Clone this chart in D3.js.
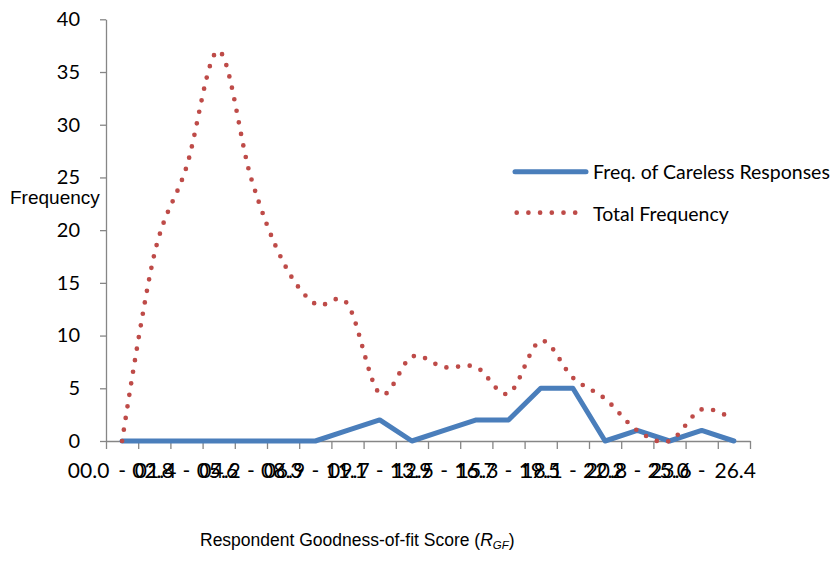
<!DOCTYPE html>
<html>
<head>
<meta charset="utf-8">
<script src="https://cdn.jsdelivr.net/npm/d3@7/dist/d3.min.js"></script>
<style>
  body { margin: 0; background: #fff; }
  svg { display: block; }
  .tick-label { font-family: Lato, "Open Sans", sans-serif; font-size: 20px; fill: #000; }
  .legend-label { font-family: Lato, "Open Sans", sans-serif; font-size: 19.5px; fill: #000; }
  .axis-title { font-family: "Liberation Sans", Arial, sans-serif; fill: #000; }
</style>
</head>
<body>
<div id="chart"></div>
<script>
// score bins (R_GF)
var categories = [
  '00.0 - 01.4', '01.4 - 02.8', '02.8 - 04.2', '04.2 - 05.6', '05.6 - 06.9',
  '06.9 - 08.3', '08.3 - 09.7', '09.7 - 11.1', '11.1 - 12.5', '12.5 - 13.9',
  '13.9 - 15.3', '15.3 - 16.7', '16.7 - 18.1', '18.1 - 19.5', '19.5 - 20.8',
  '20.8 - 22.2', '22.2 - 23.6', '23.6 - 25.0', '25.0 - 26.4', '26.4 - 27.8'
];

var carelessFreq = [0, 0, 0, 0, 0, 0, 0, 1, 2, 0, 1, 2, 2, 5, 5, 0, 1, 0, 1, 0];
var totalFreq = [0, 17.7, 26, 37, 25, 17, 13, 13, 4.5, 8, 7, 7, 4.5, 9.5, 6, 4, 1, 0, 3, 2];

var yTicks = [0, 5, 10, 15, 20, 25, 30, 35, 40];
var seriesNames = ['Freq. of Careless Responses', 'Total Frequency'];

var COLORS = {
  careless: '#4a7ebb',
  total: '#be4b48',
  axis: '#868686'
};

var render = function () {
  var width = 835;
  var height = 562;

  var margins = { top: 19.3, right: 85, bottom: 121, left: 106 };
  var plotRight = width - margins.right;
  var plotBottom = height - margins.bottom;

  var svg = d3.select('#chart')
    .append('svg')
    .attr('width', width)
    .attr('height', height);

  var x = d3.scaleBand().domain(categories).range([margins.left, plotRight]);
  var xEdge = d3.scaleLinear().domain([0, categories.length]).range([margins.left, plotRight]);
  var y = d3.scaleLinear().domain([0, 40]).range([plotBottom, margins.top]);
  var cx = function (i) { return x(categories[i]) + x.bandwidth() / 2; };

  // y axis
  var yAxis = svg.append('g')
    .attr('transform', 'translate(' + margins.left + ',0)')
    .call(d3.axisLeft(y).tickValues(yTicks).tickSize(6).tickSizeOuter(0).tickPadding(20));
  yAxis.selectAll('text').attr('class', 'tick-label').attr('font-family', null).attr('font-size', null);

  // x axis: ticks sit on the bin edges
  svg.append('g')
    .attr('transform', 'translate(0,' + plotBottom + ')')
    .call(d3.axisBottom(xEdge).tickValues(d3.range(categories.length + 1)).tickSize(8).tickSizeOuter(0).tickFormat(''));

  svg.selectAll('.domain, .tick line')
    .attr('stroke', COLORS.axis)
    .attr('stroke-width', 1.3);

  // every other bin label, Excel style (they overlap)
  svg.append('g')
    .selectAll('text')
    .data(categories.filter(function (d, i) { return i % 2 == 0; }))
    .enter()
    .append('text')
    .attr('class', 'tick-label')
    .attr('x', function (d) { return x(d) + x.bandwidth() / 2; })
    .attr('y', 478)
    .attr('text-anchor', 'middle')
    .style('font-size', '21px')
    .style('word-spacing', '3.5px')
    .text(function (d) { return d; });

  var carelessLine = d3.line()
    .x(function (d, i) { return cx(i); })
    .y(function (d) { return y(d); });

  var totalLine = d3.line()
    .x(function (d, i) { return cx(i); })
    .y(function (d) { return y(d); })
    .curve(d3.curveCardinal.tension(0));

  svg.append('path')
    .attr('d', carelessLine(carelessFreq))
    .attr('fill', 'none')
    .attr('stroke', COLORS.careless)
    .attr('stroke-width', 5)
    .attr('stroke-linejoin', 'round')
    .attr('stroke-linecap', 'round');

  svg.append('path')
    .attr('d', totalLine(totalFreq))
    .attr('fill', 'none')
    .attr('stroke', COLORS.total)
    .attr('stroke-width', 4.7)
    .attr('stroke-dasharray', '0 11.7')
    .attr('stroke-linecap', 'round');

  // legend
  var legend = svg.append('g');
  legend.append('line')
    .attr('x1', 515).attr('x2', 586)
    .attr('y1', 171.7).attr('y2', 171.7)
    .attr('stroke', COLORS.careless)
    .attr('stroke-width', 5)
    .attr('stroke-linecap', 'round');
  legend.append('text')
    .attr('class', 'legend-label')
    .attr('x', 593).attr('y', 178.5)
    .text(seriesNames[0]);

  legend.append('line')
    .attr('x1', 516.7).attr('x2', 576)
    .attr('y1', 212.7).attr('y2', 212.7)
    .attr('stroke', COLORS.total)
    .attr('stroke-width', 4.7)
    .attr('stroke-dasharray', '0 11.7')
    .attr('stroke-linecap', 'round');
  legend.append('text')
    .attr('class', 'legend-label')
    .attr('x', 593).attr('y', 220.7)
    .text(seriesNames[1]);

  // axis titles
  svg.append('text')
    .attr('class', 'axis-title')
    .attr('x', 10).attr('y', 204)
    .style('font-size', '19px')
    .text('Frequency');

  var xTitle = svg.append('text')
    .attr('class', 'axis-title')
    .attr('x', 200).attr('y', 546)
    .style('font-size', '17.5px');
  xTitle.append('tspan').text('Respondent Goodness-of-fit Score (');
  xTitle.append('tspan').style('font-style', 'italic').text('R');
  xTitle.append('tspan').style('font-style', 'italic').style('font-size', '11.5px').attr('dy', 3).text('GF');
  xTitle.append('tspan').attr('dy', -3).text(')');
};

render();
</script>
</body>
</html>
